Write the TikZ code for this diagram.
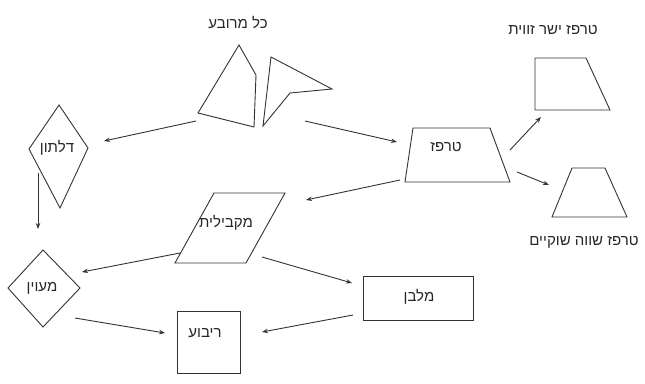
\documentclass[tikz,border=0pt]{standalone}
\usepackage{fontspec}
\newfontfamily\hebfont[Script=Hebrew]{Liberation Sans}
\TeXXeTstate=1
\usetikzlibrary{arrows.meta}
\begin{document}
\begin{tikzpicture}[x=1pt,y=-1pt,
 shp/.style={draw=black!80, line width=0.9pt, line join=miter},
 conn/.style={draw=black!80, line width=0.9pt, -{Stealth[length=6pt,width=4.5pt]}},
 lbl/.style={font=\hebfont\fontsize{15}{17}\selectfont, text=black!85, inner sep=0}]
\useasboundingbox (0,0) rectangle (645,383);
% shapes
\draw[shp] (239,45) -- (256,75) -- (254,127) -- (198,113) -- cycle;
\draw[shp] (271,57) -- (332,89) -- (290,93) -- (263,126) -- cycle;
\draw[shp] (535,58) -- (586,58) -- (610,110) -- (535,110) -- cycle;
\draw[shp] (572,168) -- (605,168) -- (627,217) -- (552,217) -- cycle;
\draw[shp] (59,105) -- (88,148) -- (60,208) -- (29,149) -- cycle;
\draw[shp] (43,250) -- (80,288) -- (43,327) -- (8,288) -- cycle;
\draw[shp] (214,193) -- (285,193) -- (246,263) -- (175,263) -- cycle;
\draw[shp] (413,128) -- (490,128) -- (510,182) -- (405,182) -- cycle;
\draw[shp] (177,311) rectangle (240,373);
\draw[shp] (363,276) rectangle (473,320);
% labels
\node[lbl] (tAll) at (238,23) {\beginR כל מרובע\endR};
\node[lbl] (tRT) at (553,30) {\beginR טרפז ישר זווית\endR};
\node[lbl] (tIT) at (584,242) {\beginR טרפז שווה שוקיים\endR};
\node[lbl] (tKite) at (57,148) {\beginR דלתון\endR};
\node[lbl] (tRh) at (42,288) {\beginR מעוין\endR};
\node[lbl] (tPar) at (226,223) {\beginR מקבילית\endR};
\node[lbl] (tTr) at (446,147) {\beginR טרפז\endR};
\node[lbl] (tSq) at (205,333) {\beginR ריבוע\endR};
\node[lbl] (tRe) at (419,297) {\beginR מלבן\endR};
% connector endpoints
\coordinate (a1) at (196,121); \coordinate (b1) at (104,141);
\coordinate (a2) at (305,121); \coordinate (b2) at (397,142);
\coordinate (a3) at (510,150); \coordinate (b3) at (541,117);
\coordinate (a4) at (517,172); \coordinate (b4) at (549,185);
\coordinate (a5) at (400,180); \coordinate (b5) at (306,200);
\coordinate (a6) at (180,253); \coordinate (b6) at (82,272);
\coordinate (a7) at (262,257); \coordinate (b7) at (352,283);
\coordinate (a8) at (75,318); \coordinate (b8) at (165,333);
\coordinate (a9) at (353,315); \coordinate (b9) at (262,332);
\coordinate (a10) at (38,173); \coordinate (b10) at (38,229);
\foreach \i in {1,...,10} \draw[conn] (a\i) -- (b\i);
\end{tikzpicture}
\end{document}
